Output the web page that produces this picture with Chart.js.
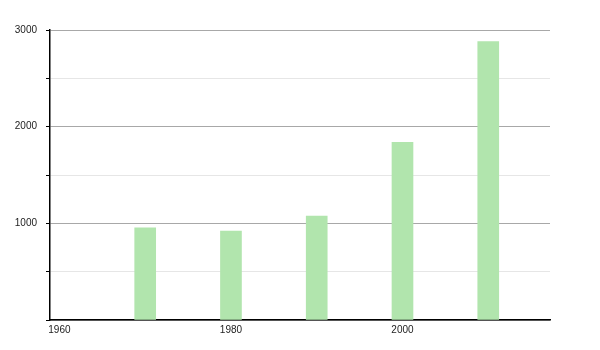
<!DOCTYPE html>
<html>
<head>
<meta charset="utf-8">
<script src="https://cdn.jsdelivr.net/npm/chart.js@4"></script>
<style>
  html, body { margin: 0; padding: 0; background: #fff; }
  #wrap { width: 600px; height: 350px; }
</style>
</head>
<body>
<div id="wrap"><canvas id="myChart"></canvas></div>
<script>
const years = [1970, 1980, 1990, 2000, 2010];
const values = [954, 919, 1074, 1839, 2881];
const yearTicks = [1960, 1980, 2000];

const ctx = document.getElementById('myChart');

new Chart(ctx, {
  type: 'bar',
  data: {
    datasets: [
      {
        data: years.map((y, i) => ({ x: y, y: values[i] })),
        backgroundColor: '#b1e5ad',
        borderWidth: 0,
        barThickness: 21,
      },
    ]
  },
  options: {
    responsive: true,
    maintainAspectRatio: false,
    animation: false,
    layout: {
      padding: { top: 30, right: 50, left: 0, bottom: 0 }
    },
    plugins: {
      legend: { display: false },
      tooltip: { enabled: false },
    },
    scales: {
      x: {
        type: 'linear',
        offset: false,
        min: 1958.9,
        max: 2017.2,
        afterBuildTicks(scale) {
          scale.ticks = yearTicks.map(v => ({ value: v }));
        },
        afterFit(scale) {
          scale.height = 30;
        },
        grid: { display: false, drawTicks: false },
        border: { display: true, color: '#000', width: 1.5 },
        ticks: {
          color: '#222',
          font: { family: 'Liberation Sans', size: 10 },
          maxRotation: 0,
          autoSkip: false,
          padding: 4,
          callback: v => String(v),
        },
      },
      y: {
        min: 0,
        max: 3000,
        afterFit(scale) {
          scale.width = 50;
        },
        grid: {
          color: c => (c.tick && c.tick.value % 1000 === 0) ? '#a8a8a8' : '#e6e6e6',
          tickColor: '#000',
          tickLength: 4,
          drawTicks: true,
        },
        border: { display: true, color: '#000', width: 1.5 },
        ticks: {
          stepSize: 500,
          color: '#222',
          font: { family: 'Liberation Sans', size: 10 },
          padding: 9,
          callback: v => (v % 1000 === 0 && v > 0) ? String(v) : '',
        },
      },
    },
  },
});
</script>
</body>
</html>
